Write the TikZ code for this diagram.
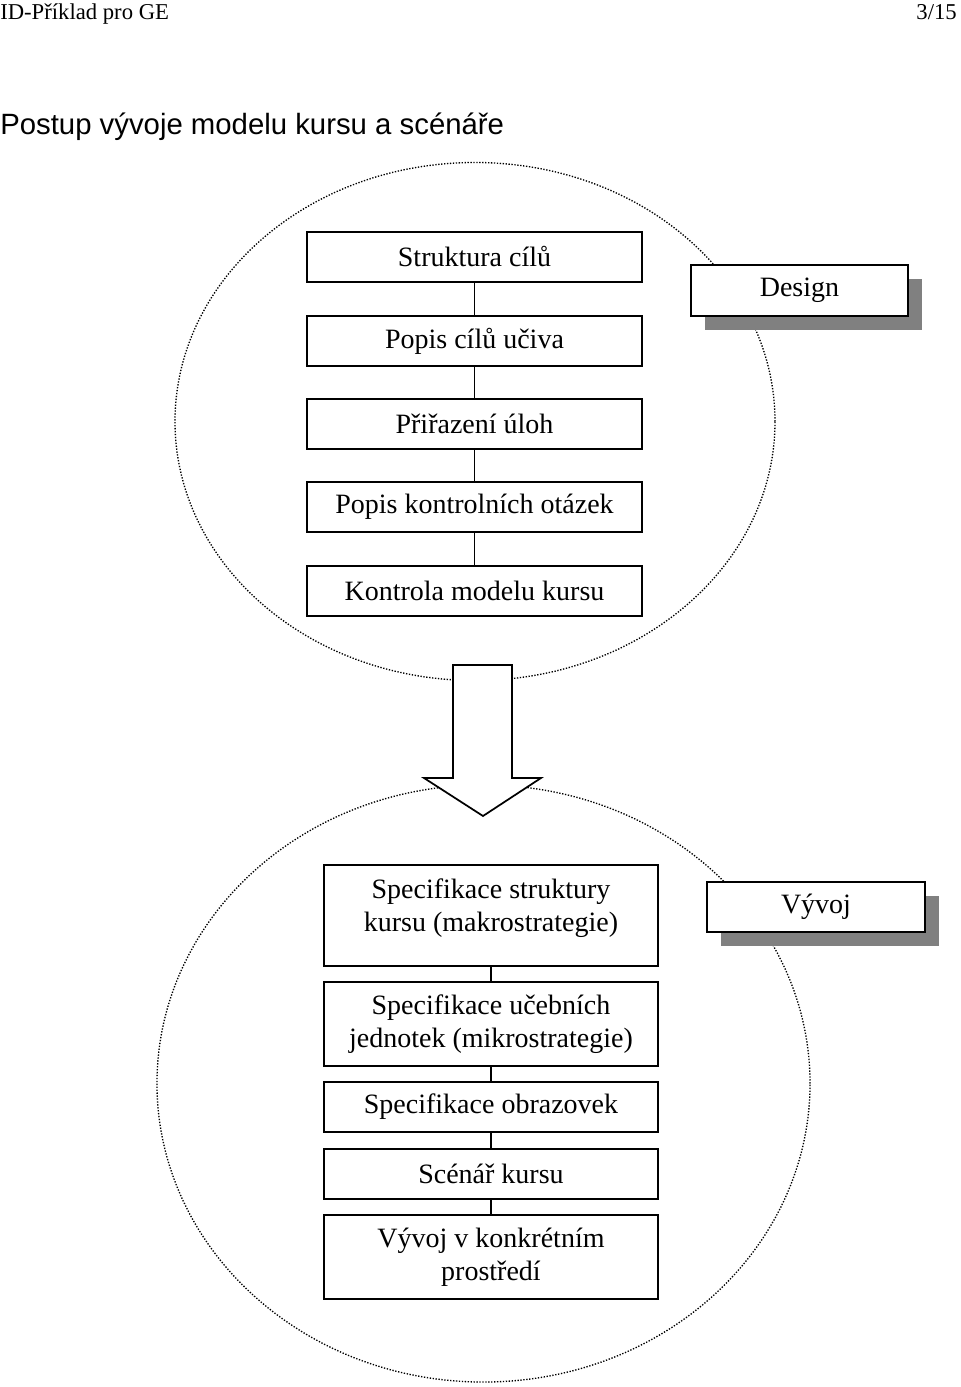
\documentclass[tikz,border=0pt]{standalone}
\usepackage{fontspec}
\setmainfont{Liberation Serif}
\newfontfamily\titlefont{Liberation Sans}
\usetikzlibrary{shadows}

\begin{document}
\begin{tikzpicture}[x=0.75pt, y=-0.75pt, font=\fontsize{21}{24.75}\selectfont, line join=miter,
		box/.style={draw, line width=1.4pt, fill=white, inner sep=2pt, align=center, minimum width=251pt, minimum height=37.5pt},
		phasebox/.style={box, minimum width=163pt, minimum height=37.5pt, drop shadow={shadow xshift=10.5pt, shadow yshift=-10.5pt, fill=black!50, opacity=1}},
		link/.style={line width=1.1pt},
		rim/.style={line width=1pt, dash pattern=on 1pt off 1.2pt}]
		\useasboundingbox (0,0) rectangle (960,1387);
		% page header and title
		\node[anchor=base west, inner sep=0pt, font=\fontsize{17}{20}\selectfont] (head) at (0,20) {ID-Příklad pro GE};
		\node[anchor=base east, inner sep=0pt, font=\fontsize{17}{20}\selectfont] (page) at (957,20) {3/15};
		\node[anchor=base west, inner sep=0pt, font=\titlefont\fontsize{22}{26}\selectfont] (title) at (0,135) {Postup vývoje modelu kursu a scénáře};
		% the two phases
		\draw[rim] (475,421.5) ellipse [x radius=225pt, y radius=194.25pt];
		\draw[rim] (483.5,1083.5) ellipse [x radius=244.9pt, y radius=223.9pt];
		% design
		\node[box] (cile) at (474.5,257) {Struktura cílů};
		\node[box] (popis) at (474.5,341) {Popis cílů učiva};
		\node[box] (ulohy) at (474.5,424) {Přiřazení úloh};
		\node[box] (otazky) at (474.5,507) {Popis kontrolních otázek};
		\node[box] (kontrola) at (474.5,591) {Kontrola modelu kursu};
		\draw[link] (cile)--(popis) (popis)--(ulohy) (ulohy)--(otazky) (otazky)--(kontrola);
		\node[phasebox, minimum width=162.75pt, minimum height=38.25pt] (design) at (799.5,290.5) {Design};
		% block arrow
		\draw[line width=1.3pt, fill=white] (453,665)--(512,665)--(512,778)--(541,778)--(483,816)--(424,778)--(453,778)--cycle;
		% development
		\node[box, minimum width=250.5pt, minimum height=75.75pt] (makro) at (491,915.5) {Specifikace struktury\\kursu (makrostrategie)\rule[-15pt]{0pt}{15pt}};
		\node[box, minimum width=250.5pt, minimum height=63pt] (mikro) at (491,1024) {Specifikace učebních\\jednotek (mikrostrategie)};
		\node[box, minimum width=250.5pt] (obrazovky) at (491,1107) {Specifikace obrazovek};
		\node[box, minimum width=250.5pt] (scenar) at (491,1174) {Scénář kursu};
		\node[box, minimum width=250.5pt, minimum height=63pt] (prostredi) at (491,1257) {Vývoj v konkrétním\\prostředí};
		\draw[link] (makro)--(mikro) (mikro)--(obrazovky) (obrazovky)--(scenar) (scenar)--(prostredi);
		\node[phasebox, minimum width=163.5pt] (vyvoj) at (816,907) {Vývoj};
\end{tikzpicture}
\end{document}
